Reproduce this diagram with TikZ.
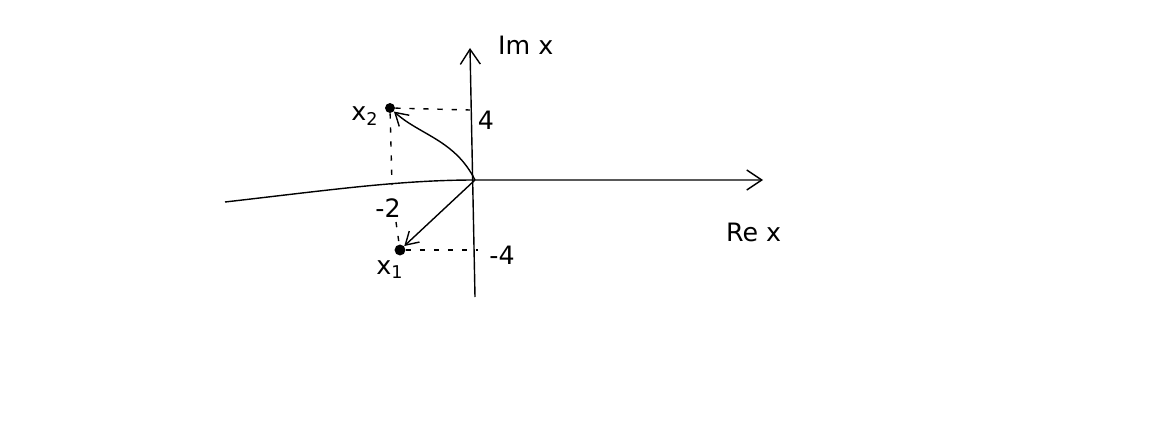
\documentclass[tikz,border=0pt]{standalone}
\usepackage{fontspec}
\setmainfont{DejaVu Sans}
\usetikzlibrary{arrows.meta, positioning}

\begin{document}
\begin{tikzpicture}[
    x=0.02cm, y=-0.02cm,
    axis/.style={thick, -{Straight Barb[length=3mm, width=4mm]}},
    vec/.style={thick, -{Straight Barb[length=2.5mm, width=3mm]}},
    guide/.style={thick, dash pattern=on 3pt off 5pt},
    lbl/.style={font=\Large}
    ]
    \useasboundingbox (0,0) rectangle (1157,439);

    % Axes
    \coordinate (o) at (475,180);
    \coordinate (reend) at (763,180);
    \coordinate (imend) at (470,48);
    \draw[axis] (225,202) .. controls (330,190) and (400,180) .. (o) -- (reend);
    \draw[axis] (475,297) -- (imend);
    \node[lbl, anchor=west] (relbl) at (720,232) {Re x};
    \node[lbl, anchor=west] (imlbl) at (492,45) {Im x};

    % Points
    \node[circle, fill, inner sep=2pt] (xtwo) at (390,108) {};
    \node[circle, fill, inner sep=2.2pt] (xone) at (400,250) {};
    \node[lbl] (xtwolbl) at (365,116) {x\textsubscript{2}};
    \node[lbl] (xonelbl) at (390,270) {x\textsubscript{1}};

    % Vectors
    \draw[vec] (o) .. controls (455,140) and (420,135) .. (xtwo);
    \draw[vec] (o) -- (xone);

    % Projections
    \coordinate (fourpt) at (470,110);
    \coordinate (mfourpt) at (478,250);
    \coordinate (mtwopt) at (392,185);
    \draw[guide] (xtwo) -- (fourpt);
    \draw[guide] (xtwo) -- (mtwopt);
    \draw[guide] (396,222) -- (xone);
    \draw[guide] (xone) -- (mfourpt);
    \node[lbl] (four) at (486,120) {4};
    \node[lbl] (mtwo) at (388,208) {-2};
    \node[lbl] (mfour) at (502,255) {-4};
\end{tikzpicture}
\end{document}
